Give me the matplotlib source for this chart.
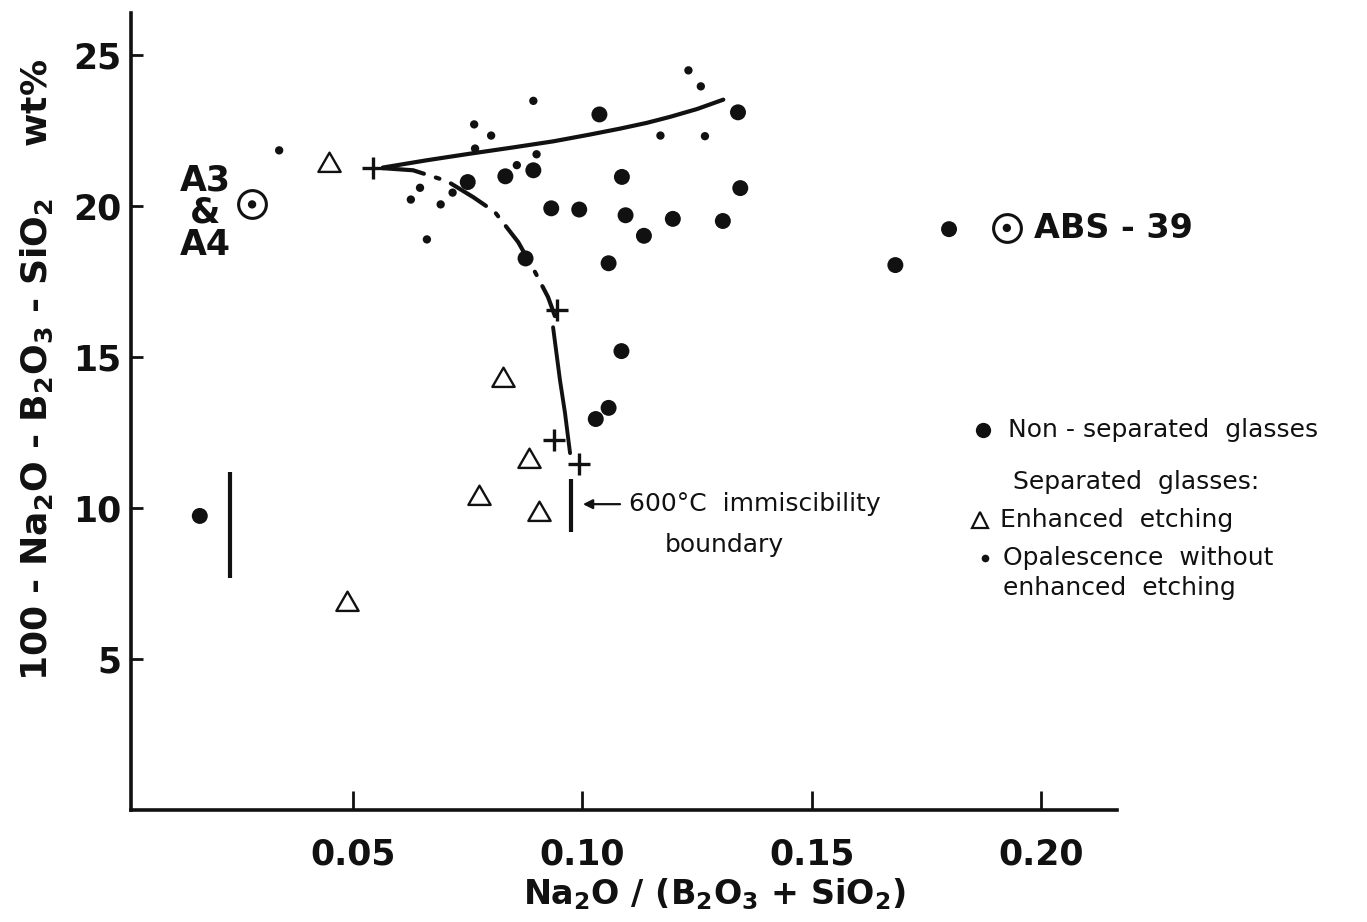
import matplotlib
matplotlib.use('Agg')
import matplotlib.pyplot as plt

plt.rcParams.update({
    'font.family': 'DejaVu Sans',
    'mathtext.fontset': 'custom',
    'mathtext.rm': 'DejaVu Sans:bold',
    'mathtext.default': 'rm',
    'axes.linewidth': 2.6,
})

INK = '#111111'

# ── Non-separated glasses (large filled dots) ─────────────────────────
non_x = [0.0166, 0.0750, 0.0832, 0.0893, 0.1037, 0.1339, 0.1086, 0.1344,
         0.0932, 0.0993, 0.1094, 0.1197, 0.1306, 0.1134, 0.0876, 0.1057,
         0.1085, 0.1029, 0.1057, 0.1682, 0.1799]
non_y = [9.74, 20.80, 20.99, 21.19, 23.04, 23.11, 20.97, 20.60,
         19.93, 19.89, 19.70, 19.58, 19.51, 19.02, 18.27, 18.11,
         15.20, 12.95, 13.32, 18.05, 19.24]

# ── Separated: opalescence without enhanced etching (small dots) ──────
opal_x = [0.0339, 0.0893, 0.0764, 0.0801, 0.0766, 0.0900, 0.0857, 0.0646,
          0.0626, 0.0691, 0.0717, 0.0661, 0.1231, 0.1258, 0.1170, 0.1267]
opal_y = [21.85, 23.49, 22.71, 22.34, 21.91, 21.72, 21.36, 20.61,
          20.22, 20.06, 20.45, 18.90, 24.50, 23.97, 22.34, 22.32]

# ── Separated: enhanced etching (open triangles) ──────────────────────
etch_x = [0.0448, 0.0826, 0.0884, 0.0775, 0.0905, 0.0486]
etch_y = [21.38, 14.24, 11.56, 10.35, 9.80, 6.81]

# ── Boundary points (+) ───────────────────────────────────────────────
bound_x = [0.0544, 0.0944, 0.0939, 0.0993]
bound_y = [21.25, 16.56, 12.24, 11.45]

# ── Reference glasses (circled dot) ───────────────────────────────────
ref_x = [0.0280, 0.1925]
ref_y = [20.06, 19.28]

# ── Composition ranges (vertical bars) ────────────────────────────────
bar_x = [0.0232, 0.0974]
bar_lo = [7.67, 9.22]
bar_hi = [11.20, 10.98]

# ── 600 °C immiscibility boundary ─────────────────────────────────────
upper_x = [0.0565, 0.0660, 0.0755, 0.0850, 0.0937, 0.1015, 0.1082,
           0.1140, 0.1191, 0.1250, 0.1307]
upper_y = [21.28, 21.52, 21.74, 21.95, 22.15, 22.37, 22.57,
           22.76, 22.96, 23.22, 23.53]
lower_x = [0.0565, 0.0631, 0.0705, 0.0762, 0.0809, 0.0860, 0.0897,
           0.0925, 0.0940]
lower_y = [21.26, 21.19, 20.83, 20.30, 19.81, 18.81, 17.81, 16.99, 16.36]
tail_x = [0.0936, 0.0951, 0.0962, 0.0973]
tail_y = [15.99, 14.24, 13.15, 11.82]

x_ticks = [0.05, 0.10, 0.15, 0.20]
x_ticklabels = ['0.05', '0.10', '0.15', '0.20']
y_ticks = [5, 10, 15, 20, 25]

fig = plt.figure(figsize=(13.67, 9.22), dpi=100)
ax = fig.add_axes([0.0958, 0.1215, 0.7213, 0.8644])

# curves
ax.plot(upper_x, upper_y, color=INK, lw=3.0, solid_capstyle='round',
        solid_joinstyle='round', zorder=2)
ax.plot(lower_x, lower_y, color=INK, lw=3.0,
        linestyle=(0, (10, 3.0, 0.9, 3.0)), dash_capstyle='round', zorder=2)
ax.plot(tail_x, tail_y, color=INK, lw=2.8, solid_capstyle='round',
        solid_joinstyle='round', zorder=2)

# range bars
ax.vlines(bar_x, bar_lo, bar_hi, color=INK, lw=3.0, zorder=2)

# points
ax.scatter(non_x, non_y, s=132, color=INK, edgecolors='none', zorder=3)
ax.scatter(opal_x, opal_y, s=36, color=INK, edgecolors='none', zorder=3)
ax.scatter(etch_x, etch_y, s=18.5 ** 2, marker=(3, 0, 0), facecolors='white',
           edgecolors=INK, linewidths=1.7, zorder=3)
ax.scatter(bound_x, bound_y, s=270, marker='+', color=INK, linewidths=2.4,
           zorder=4)
ax.scatter(ref_x, ref_y, s=20 ** 2, facecolors='white', edgecolors=INK,
           linewidths=2.2, zorder=3)
ax.scatter(ref_x, ref_y, s=36, color=INK, edgecolors='none', zorder=4)

# sample labels
for y, s in zip([20.86, 19.80, 18.71], ['A3', '&', 'A4']):
    ax.text(0.0177, y, s, ha='center', va='center', fontsize=25,
            fontweight='bold', color=INK)
ax.text(0.1985, 19.27, 'ABS - 39', ha='left', va='center', fontsize=24,
        fontweight='bold', color=INK)

# boundary annotation
ax.annotate('', xy=(0.1001, 10.13), xytext=(0.1082, 10.13),
            arrowprops=dict(arrowstyle='-|>', lw=1.6, color=INK,
                            mutation_scale=14, shrinkA=0, shrinkB=0))
ax.text(0.1102, 10.13, '600°C  immiscibility', ha='left', va='center',
        fontsize=18, color=INK)
ax.text(0.1180, 8.77, 'boundary', ha='left', va='center',
        fontsize=18, color=INK)

# key (drawn in axes fraction)
kw = dict(transform=ax.transAxes, clip_on=False, color=INK)
ax.plot([0.864], [0.4768], marker='o', ms=11, mec='none', **kw)
ax.plot([0.861], [0.3639], marker='^', ms=12, mfc='white', mew=1.6,
        linestyle='none', **kw)
ax.plot([0.866], [0.3162], marker='o', ms=5.5, mec='none', **kw)
tkw = dict(transform=ax.transAxes, ha='left', va='center', fontsize=18,
           color=INK)
ax.text(0.889, 0.4768, 'Non - separated  glasses', **tkw)
ax.text(0.8945, 0.4115, 'Separated  glasses:', **tkw)
ax.text(0.8813, 0.3639, 'Enhanced  etching', **tkw)
ax.text(0.8844, 0.3162, 'Opalescence  without', **tkw)
ax.text(0.8844, 0.2785, 'enhanced  etching', **tkw)

# axes
ax.set_xlim(0.0016, 0.2165)
ax.set_ylim(0, 26.4)
ax.set_xticks(x_ticks)
ax.set_xticklabels(x_ticklabels, fontsize=25, fontweight='bold')
ax.set_yticks(y_ticks)
ax.set_yticklabels([str(v) for v in y_ticks], fontsize=25, fontweight='bold')
ax.tick_params(axis='x', direction='in', length=14, width=2, pad=20,
               colors=INK)
ax.tick_params(axis='y', direction='in', length=8.5, width=2, pad=7,
               colors=INK)
for side in ('top', 'right'):
    ax.spines[side].set_visible(False)
for side in ('left', 'bottom'):
    ax.spines[side].set_color(INK)

ax.set_xlabel(r'Na$_2$O / (B$_2$O$_3$ + SiO$_2$)', fontsize=24,
              fontweight='bold', color=INK)
ax.xaxis.set_label_coords(0.592, -0.083)
ax.set_ylabel(r'100 - Na$_2$O - B$_2$O$_3$ - SiO$_2$    wt%', fontsize=26,
              fontweight='bold', color=INK)
ax.yaxis.set_label_coords(-0.077, 0.552)

fig.savefig('out.png', dpi=100, facecolor='white')
plt.close(fig)
